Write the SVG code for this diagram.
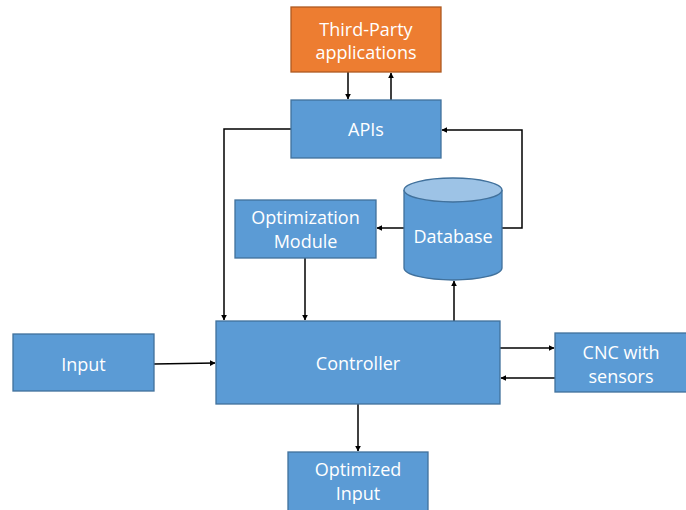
<svg xmlns="http://www.w3.org/2000/svg" width="686" height="510" viewBox="0 0 686 510">
<defs>
<style>
.box{fill:#5B9BD5;stroke:#41719C;stroke-width:1.3}
.org{fill:#ED7D31;stroke:#AE5A21;stroke-width:1.3}
.t{font-family:"Open Sans","Noto Sans",sans-serif;font-size:18px;fill:#fff;text-anchor:middle}
.c{fill:none;stroke:#000;stroke-width:1.5}
</style>
<marker id="ah" viewBox="0 0 10 10" refX="9" refY="5" markerWidth="6" markerHeight="6" orient="auto" markerUnits="userSpaceOnUse">
<path d="M0,0 L10,5 L0,10 z" fill="#000"/>
</marker>
</defs>
<rect width="686" height="510" fill="#fff"/>
<g id="connectors">
<path class="c" d="M348,72 V99" marker-end="url(#ah)"/>
<path class="c" d="M391,100 V73" marker-end="url(#ah)"/>
<path class="c" d="M291,129 H224 V320" marker-end="url(#ah)"/>
<path class="c" d="M305,258 V320" marker-end="url(#ah)"/>
<path class="c" d="M454,321 V281" marker-end="url(#ah)"/>
<path class="c" d="M502,228 H522 V130 H442" marker-end="url(#ah)"/>
<path class="c" d="M404,228 H377" marker-end="url(#ah)"/>
<path class="c" d="M154,364 L215,363" marker-end="url(#ah)"/>
<path class="c" d="M500,348 H554" marker-end="url(#ah)"/>
<path class="c" d="M555,378 H501" marker-end="url(#ah)"/>
<path class="c" d="M358,404 V451" marker-end="url(#ah)"/>
</g>
<g id="third-party">
<rect class="org" x="291" y="7" width="150" height="65"/>
<text class="t" x="366" y="36">Third-Party</text>
<text class="t" x="366" y="59">applications</text>
</g>
<g id="apis">
<rect class="box" x="291" y="100" width="150" height="58"/>
<text class="t" x="366" y="136">APIs</text>
</g>
<g id="optimization">
<rect class="box" x="235" y="200" width="141" height="58"/>
<text class="t" x="305.5" y="224">Optimization</text>
<text class="t" x="305.5" y="248">Module</text>
</g>
<g id="database">
<path class="box" d="M404,190 V268 A49,12 0 0 0 502,268 V190"/>
<ellipse cx="453" cy="190" rx="49" ry="12" fill="#9DC3E6" stroke="#41719C" stroke-width="1.3"/>
<text class="t" x="453" y="243">Database</text>
</g>
<g id="controller">
<rect class="box" x="216" y="321" width="284" height="83"/>
<text class="t" x="358" y="370">Controller</text>
</g>
<g id="input">
<rect class="box" x="13" y="334" width="141" height="57"/>
<text class="t" x="83.5" y="371">Input</text>
</g>
<g id="cnc">
<rect class="box" x="555" y="333" width="135" height="59"/>
<text class="t" x="621" y="359">CNC with</text>
<text class="t" x="621" y="383">sensors</text>
</g>
<g id="optimized-input">
<rect class="box" x="288" y="452" width="140" height="62"/>
<text class="t" x="358" y="476">Optimized</text>
<text class="t" x="358" y="500">Input</text>
</g>
</svg>
